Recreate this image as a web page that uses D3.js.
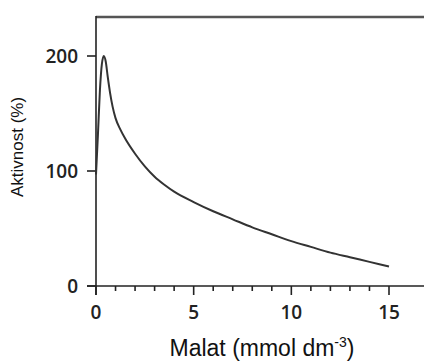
<!DOCTYPE html>
<html>
<head>
<meta charset="utf-8">
<script src="https://cdn.jsdelivr.net/npm/d3@7"></script>
<style>
  body { margin: 0; background: #fff; }
  svg { display: block; }
</style>
</head>
<body>
<svg width="424" height="361"></svg>
<script>
// malate concentration (mmol dm-3) vs activity (%)
const malat = [0, 0.1, 0.2, 0.3, 0.4, 0.5, 0.6, 0.72, 0.85, 1.0, 1.25, 1.5, 2, 2.5, 3, 3.5, 4, 5, 6, 7, 8, 9, 10, 11, 12, 13, 14, 15];
const aktivnost = [97, 132, 170, 193, 200, 195, 182, 168, 156, 146, 136, 128, 115, 104, 95, 88, 82, 73, 65, 58, 51, 45, 39, 34, 29, 25, 21, 17];
const xMajor = [0, 5, 10, 15];
const xMinor = d3.range(1, 15).filter(v => v % 5 !== 0);
const yTicks = [0, 100, 200];

const svg = d3.select("svg");
const x = d3.scaleLinear().domain([0, 15]).range([96, 389]);
const y = d3.scaleLinear().domain([0, 200]).range([286, 56]);

const tickFont = "'Open Sans', sans-serif";

// frame: top line and axes
svg.append("line")
  .attr("x1", 96).attr("x2", 424).attr("y1", 17).attr("y2", 17)
  .attr("stroke", "#555").attr("stroke-width", 2.5);

svg.append("line")
  .attr("x1", 96).attr("x2", 96).attr("y1", 16).attr("y2", 295)
  .attr("stroke", "#222").attr("stroke-width", 1.6);

svg.append("line")
  .attr("x1", 87).attr("x2", 424).attr("y1", y(0)).attr("y2", y(0))
  .attr("stroke", "#222").attr("stroke-width", 1.6);

// y ticks
svg.append("g")
  .selectAll("line")
  .data(yTicks)
  .enter()
  .append("line")
  .attr("x1", 87).attr("x2", 96)
  .attr("y1", d => y(d)).attr("y2", d => y(d))
  .attr("stroke", "#222").attr("stroke-width", 1.6);

svg.append("g")
  .selectAll("text")
  .data(yTicks)
  .enter()
  .append("text")
  .attr("x", 78)
  .attr("y", d => y(d))
  .attr("dy", "0.36em")
  .attr("text-anchor", "end")
  .style("font-family", tickFont)
  .style("font-weight", 600)
  .style("font-size", "19px")
  .style("fill", "#222")
  .text(d => d);

// x ticks
svg.append("g")
  .selectAll("line")
  .data(xMinor)
  .enter()
  .append("line")
  .attr("x1", d => x(d)).attr("x2", d => x(d))
  .attr("y1", y(0)).attr("y2", y(0) + 5)
  .attr("stroke", "#222").attr("stroke-width", 1.6);

svg.append("g")
  .selectAll("line")
  .data(xMajor)
  .enter()
  .append("line")
  .attr("x1", d => x(d)).attr("x2", d => x(d))
  .attr("y1", y(0)).attr("y2", y(0) + 9)
  .attr("stroke", "#222").attr("stroke-width", 1.6);

svg.append("g")
  .selectAll("text")
  .data(xMajor)
  .enter()
  .append("text")
  .attr("x", d => x(d))
  .attr("y", 319)
  .attr("text-anchor", "middle")
  .style("font-family", tickFont)
  .style("font-weight", 600)
  .style("font-size", "19px")
  .style("fill", "#222")
  .text(d => d);

// curve
const line = d3.line()
  .x((d, i) => x(malat[i]))
  .y(d => y(d))
  .curve(d3.curveMonotoneX);

svg.append("path")
  .datum(aktivnost)
  .attr("d", line)
  .attr("fill", "none")
  .attr("stroke", "#333")
  .attr("stroke-width", 2);

// axis titles
svg.append("text")
  .attr("transform", "translate(23,147) rotate(-90)")
  .attr("text-anchor", "middle")
  .style("font-family", "'Liberation Sans', Arial, sans-serif")
  .style("font-size", "17px")
  .style("fill", "#111")
  .text("Aktivnost (%)");

const xt = svg.append("text")
  .attr("x", 262)
  .attr("y", 356)
  .attr("text-anchor", "middle")
  .style("font-family", "'Liberation Sans', Arial, sans-serif")
  .style("font-size", "23px")
  .style("fill", "#111");
xt.append("tspan").text("Malat (mmol dm");
xt.append("tspan").attr("dy", -9).style("font-size", "14px").text("-3");
xt.append("tspan").attr("dy", 9).text(")");
</script>
</body>
</html>
